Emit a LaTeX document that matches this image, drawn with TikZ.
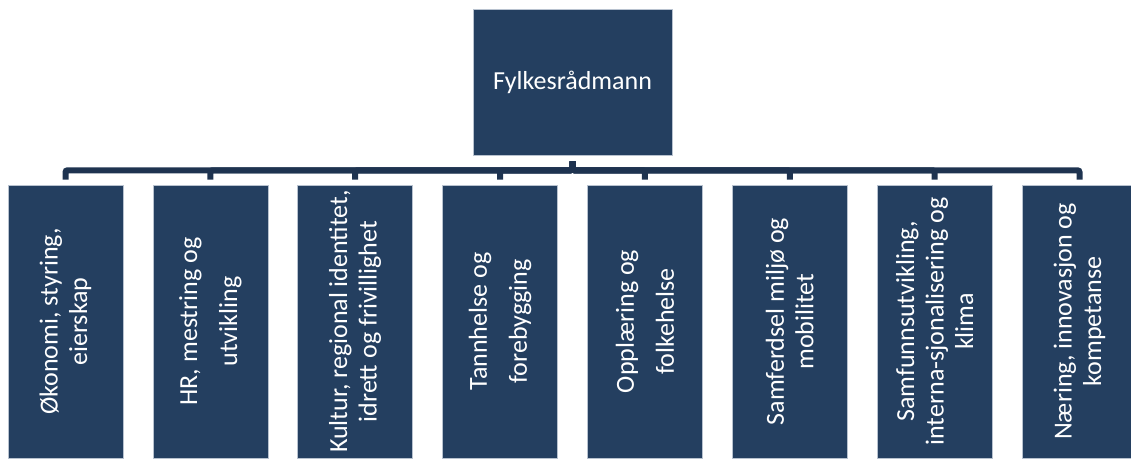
\documentclass[tikz,border=0pt]{standalone}
\usepackage{fontspec}
\setmainfont{Carlito}
\definecolor{boxblue}{HTML}{243F60}
\definecolor{connblue}{HTML}{1E3350}
\definecolor{edgegray}{HTML}{B8C2CF}
\begin{document}
\begin{tikzpicture}[x=1pt,y=1pt,
  orgbox/.style={draw=edgegray,line width=0.6pt,fill=boxblue,inner sep=0pt},
  topbox/.style={orgbox,minimum width=199pt,minimum height=146pt,text=white,
    font=\fontsize{26}{31}\selectfont},
  unitbox/.style={orgbox,minimum width=115pt,minimum height=273pt},
  unitlabel/.style={rotate=90,text=white,align=center,inner sep=0pt,
    font=\fontsize{26}{29.5}\selectfont},
  widelabel/.style={unitlabel,font=\fontsize{26}{40}\selectfont},
  conn/.style={draw=connblue,line width=6pt,rounded corners=2pt,
    shorten <=6pt,shorten >=5pt}]
\useasboundingbox (0,0) rectangle (1131,460);
\node[topbox] (top) at (572.5,378) {Fylkesrådmann};
\foreach \i/\x in {1/65.5,2/210.4,3/355.2,4/500.1,5/644.9,6/789.8,7/934.7,8/1079.5}{
  \node[unitbox] (c\i) at (\x,138.5) {};
}
\node[unitlabel] (t1) at (c1) {Økonomi, styring,\\eierskap};
\node[widelabel] (t2) at (c2) {HR, mestring og\\utvikling};
\node[unitlabel] (t3) at (c3) {Kultur, regional identitet,\\idrett og frivillighet};
\node[widelabel] (t4) at (c4) {Tannhelse og\\forebygging};
\node[widelabel] (t5) at (c5) {Opplæring og\\folkehelse};
\node[unitlabel] (t6) at (c6) {Samferdsel miljø og\\mobilitet};
\node[unitlabel] (t7) at (c7) {Samfunnsutvikling,\\interna-sjonalisering og\\klima};
\node[unitlabel] (t8) at (c8) {Næring, innovasjon og\\kompetanse};
\foreach \i in {1,...,8}{
  \draw[conn] (top.south) -- ++(0,-15) -| (c\i.north);
}
\end{tikzpicture}
\end{document}
